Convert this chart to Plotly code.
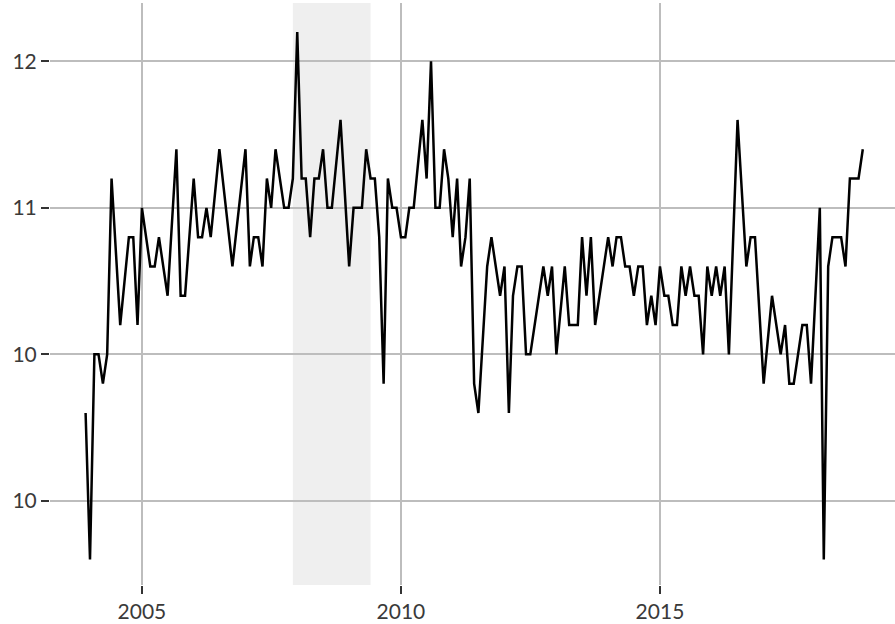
import plotly.graph_objects as go

months = [
    "2003-12", "2004-01", "2004-02", "2004-03", "2004-04", "2004-05", "2004-06", "2004-08",
    "2004-10", "2004-11", "2004-12", "2005-01", "2005-03", "2005-04", "2005-05", "2005-07",
    "2005-09", "2005-10", "2005-11", "2006-01", "2006-02", "2006-03", "2006-04", "2006-05",
    "2006-07", "2006-10", "2007-01", "2007-02", "2007-03", "2007-04", "2007-05", "2007-06",
    "2007-07", "2007-08", "2007-10", "2007-11", "2007-12", "2008-01", "2008-02", "2008-03",
    "2008-04", "2008-05", "2008-06", "2008-07", "2008-08", "2008-09", "2008-11", "2009-01",
    "2009-02", "2009-03", "2009-04", "2009-05", "2009-06", "2009-07", "2009-08", "2009-09",
    "2009-10", "2009-11", "2009-12", "2010-01", "2010-02", "2010-03", "2010-04", "2010-06",
    "2010-07", "2010-08", "2010-09", "2010-10", "2010-11", "2010-12", "2011-01", "2011-02",
    "2011-03", "2011-04", "2011-05", "2011-06", "2011-07", "2011-09", "2011-10", "2011-12",
    "2012-01", "2012-02", "2012-03", "2012-04", "2012-05", "2012-06", "2012-07", "2012-10",
    "2012-11", "2012-12", "2013-01", "2013-03", "2013-04", "2013-05", "2013-06", "2013-07",
    "2013-08", "2013-09", "2013-10", "2014-01", "2014-02", "2014-03", "2014-04", "2014-05",
    "2014-06", "2014-07", "2014-08", "2014-09", "2014-10", "2014-11", "2014-12", "2015-01",
    "2015-02", "2015-03", "2015-04", "2015-05", "2015-06", "2015-07", "2015-08", "2015-09",
    "2015-10", "2015-11", "2015-12", "2016-01", "2016-02", "2016-03", "2016-04", "2016-05",
    "2016-07", "2016-09", "2016-10", "2016-11", "2017-01", "2017-03", "2017-05", "2017-06",
    "2017-07", "2017-08", "2017-10", "2017-11", "2017-12", "2018-02", "2018-03", "2018-04",
    "2018-05", "2018-07", "2018-08", "2018-09", "2018-11", "2018-12",
]

values = [
    10.3, 9.8, 10.5, 10.5, 10.4, 10.5, 11.1, 10.6,
    10.9, 10.9, 10.6, 11.0, 10.8, 10.8, 10.9, 10.7,
    11.2, 10.7, 10.7, 11.1, 10.9, 10.9, 11.0, 10.9,
    11.2, 10.8, 11.2, 10.8, 10.9, 10.9, 10.8, 11.1,
    11.0, 11.2, 11.0, 11.0, 11.1, 11.6, 11.1, 11.1,
    10.9, 11.1, 11.1, 11.2, 11.0, 11.0, 11.3, 10.8,
    11.0, 11.0, 11.0, 11.2, 11.1, 11.1, 10.9, 10.4,
    11.1, 11.0, 11.0, 10.9, 10.9, 11.0, 11.0, 11.3,
    11.1, 11.5, 11.0, 11.0, 11.2, 11.1, 10.9, 11.1,
    10.8, 10.9, 11.1, 10.4, 10.3, 10.8, 10.9, 10.7,
    10.8, 10.3, 10.7, 10.8, 10.8, 10.5, 10.5, 10.8,
    10.7, 10.8, 10.5, 10.8, 10.6, 10.6, 10.6, 10.9,
    10.7, 10.9, 10.6, 10.9, 10.8, 10.9, 10.9, 10.8,
    10.8, 10.7, 10.8, 10.8, 10.6, 10.7, 10.6, 10.8,
    10.7, 10.7, 10.6, 10.6, 10.8, 10.7, 10.8, 10.7,
    10.7, 10.5, 10.8, 10.7, 10.8, 10.7, 10.8, 10.5,
    11.3, 10.8, 10.9, 10.9, 10.4, 10.7, 10.5, 10.6,
    10.4, 10.4, 10.6, 10.6, 10.4, 11.0, 9.8, 10.8,
    10.9, 10.9, 10.8, 11.1, 11.1, 11.2,
]

recession_start = "2007-12-01"
recession_end = "2009-06-01"

x_tick_vals = ["2005-01-01", "2010-01-01", "2015-01-01"]
x_tick_text = ["2005", "2010", "2015"]
y_tick_vals = [10.0, 10.5, 11.0, 11.5]
y_tick_text = ["10", "10", "11", "12"]

fig = go.Figure()
fig.add_trace(go.Scatter(
    x=[m + "-01" for m in months], y=values, mode="lines",
    line=dict(color="black", width=2.5), showlegend=False, hoverinfo="x+y",
))

fig.add_shape(
    type="rect", xref="x", yref="paper",
    x0=recession_start, x1=recession_end, y0=0, y1=1,
    fillcolor="#efefef", line=dict(width=0), layer="below",
)

font_family = "Lato, 'Open Sans', sans-serif"
fig.update_layout(
    width=895, height=624,
    margin=dict(l=50, r=0, t=3, b=39),
    paper_bgcolor="white", plot_bgcolor="white",
    font=dict(family=font_family, size=21, color="#3a3a3a"),
    xaxis=dict(
        range=["2003-03-25", "2019-07-16"],
        tickvals=x_tick_vals, ticktext=x_tick_text,
        showgrid=True, gridcolor="#bdbdbd", gridwidth=1.5,
        ticks="outside", ticklen=8, tickcolor="#333333", tickwidth=1.5,
        showline=False, zeroline=False,
    ),
    yaxis=dict(
        range=[9.713, 11.699],
        tickvals=y_tick_vals, ticktext=y_tick_text,
        showgrid=True, gridcolor="#bdbdbd", gridwidth=1.5,
        ticks="outside", ticklen=8, tickcolor="#333333", tickwidth=1.5,
        showline=False, zeroline=False,
    ),
)

fig.write_html(
    "out.html",
    config={"displayModeBar": False},
    post_script="document.body.style.margin='0';",
)
